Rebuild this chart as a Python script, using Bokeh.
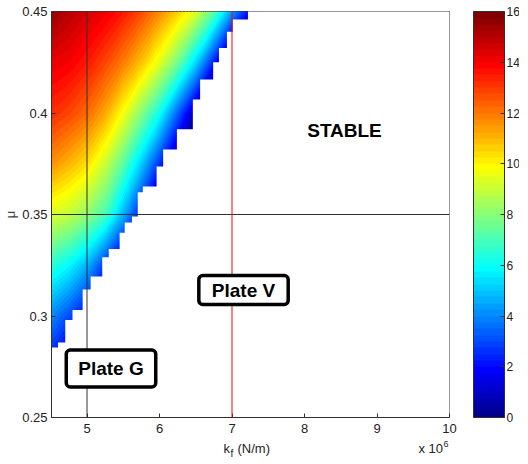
import numpy as np
from bokeh.plotting import figure
from bokeh.layouts import column
from bokeh.models import (Range1d, FixedTicker, ColorBar, LinearColorMapper,
                          Label, Span)
from bokeh.core.properties import value
from bokeh.embed import file_html
from bokeh.resources import INLINE

# ---------------- data ----------------
# kf in units of 1e6 N/m, friction coefficient mu
kf_cols = [4.5, 4.75, 5.0, 5.25, 5.5, 5.75, 6.0, 6.25, 6.5, 6.75, 7.0, 7.25, 7.5]
mu_rows = [0.275, 0.30, 0.325, 0.35, 0.375, 0.40, 0.425, 0.45]
growth_0275 = [2.0, 1.0, 0.0, -1, -2, -3, -4, -5, -6, -7, -8, -9, -10]
growth_0300 = [4.0, 3.0, 1.8, 0.0, -2, -3, -4, -5, -6, -7, -8, -9, -10]
growth_0325 = [6.5, 5.8, 4.6, 2.6, 0.5, -1.5, -3, -4, -5, -6, -7, -8, -9]
growth_0350 = [9.3, 8.9, 8.1, 6.9, 4.6, 2.0, -0.5, -2.5, -4, -5, -6, -7, -8]
growth_0375 = [11.6, 11.0, 10.3, 9.0, 7.2, 5.0, 2.5, 0.0, -2, -3.5, -5, -6, -7]
growth_0400 = [13.2, 12.8, 12.2, 11.2, 9.7, 7.9, 6.0, 3.3, 0.5, -2, -4, -5, -6]
growth_0425 = [14.2, 14.0, 13.5, 12.8, 11.9, 10.8, 9.4, 7.6, 5.2, 2.2, -1, -3, -5]
growth_0450 = [15.6, 15.0, 14.5, 14.1, 13.5, 12.7, 11.7, 10.6, 9.3, 7.2, 4.2, 1.8, -1]

# stability boundary (staircase): band bottom mu and kf edge of that band
edge_mu = [0.2845, 0.287, 0.298, 0.303, 0.313, 0.3195, 0.329, 0.333, 0.341,
           0.346, 0.349, 0.361, 0.3638, 0.3736, 0.382, 0.392, 0.4067, 0.4165,
           0.425, 0.432, 0.440, 0.446]
edge_kf = [4.60, 4.70, 4.80, 4.94, 5.05, 5.21, 5.30, 5.45, 5.52,
           5.62, 5.70, 5.77, 5.96, 6.05, 6.24, 6.46, 6.56, 6.74,
           6.82, 6.93, 7.01, 7.22]

kf_plate_G = 5.0
kf_plate_V = 7.0
mu_ref = 0.35

xticks = [5, 6, 7, 8, 9, 10]
yticks = [0.25, 0.3, 0.35, 0.4, 0.45]
ytick_labels = ["0.25", "0.3", "0.35", "0.4", "0.45"]
cbar_ticks = [0, 2, 4, 6, 8, 10, 12, 14, 16]

FRAME_W, FRAME_H = 398, 406
X_HI = 10.0
X_LO = X_HI - FRAME_W / 72.5   # ~4.51: puts the 5 and 7 lines on pixel centres
Y_LO, Y_HI = 0.25, 0.45


# ---------------- MATLAB jet(64) ----------------
def matlab_jet(m=64):
    n = int(np.ceil(m / 4))
    u = np.concatenate([np.arange(1, n + 1) / n, np.ones(n - 1),
                        np.arange(n, 0, -1) / n])
    g = int(np.ceil(n / 2)) - (1 if m % 4 == 1 else 0) + np.arange(1, len(u) + 1)
    r = g + n
    b = g - n
    J = np.zeros((m, 3))
    for col, idxs in ((0, r), (1, g), (2, b)):
        for i, val in zip(idxs, u):
            if 1 <= i <= m:
                J[i - 1, col] = val
    return ["#%02x%02x%02x" % tuple(int(round(c * 255)) for c in row) for row in J]


jet = matlab_jet(64)

FONT = "Liberation Sans"
TOP = 11
BOTTOM = 22

xr = Range1d(X_LO, X_HI)
p = figure(frame_width=FRAME_W, frame_height=FRAME_H,
           x_range=xr, y_range=Range1d(Y_LO, Y_HI),
           output_backend="svg", toolbar_location=None,
           min_border_left=44, min_border_right=70,
           min_border_top=TOP, min_border_bottom=BOTTOM)
p.background_fill_color = "white"
p.border_fill_color = "white"
p.xgrid.visible = False
p.ygrid.visible = False
p.outline_line_color = "#303030"
p.outline_line_width = 1

# heat field as filled contours (lines in matching colours hide seams)
z = np.array([growth_0275, growth_0300, growth_0325, growth_0350,
              growth_0375, growth_0400, growth_0425, growth_0450])
levels = np.linspace(0, 16, 65)
line_cols = [jet[min(i, 63)] for i in range(65)]
p.contour(kf_cols, mu_rows, z, levels, fill_color=jet,
          line_color=line_cols, line_width=1.3)

# white mask of the stable region (right of the staircase boundary)
mxs, mys = [X_HI + 0.2, X_HI + 0.2, edge_kf[-1]], [Y_LO - 0.01, Y_HI + 0.01, Y_HI + 0.01]
tops = edge_mu[1:] + [Y_HI + 0.01]
for i in range(len(edge_mu) - 1, -1, -1):
    mxs += [edge_kf[i], edge_kf[i]]
    mys += [tops[i], edge_mu[i]]
mxs += [X_LO - 0.2, X_LO - 0.2]
mys += [edge_mu[0], Y_LO - 0.01]
p.patch(mxs, mys, fill_color="white", line_color=None)

# axes
for ax in (p.xaxis[0], p.yaxis[0]):
    ax.major_tick_in = 4
    ax.major_tick_out = 0
    ax.minor_tick_line_color = None
    ax.axis_line_color = "#303030"
    ax.major_tick_line_color = "#303030"
    ax.major_label_text_font = FONT
    ax.major_label_text_font_size = "13px"
    ax.major_label_text_color = "#222222"
p.xaxis.ticker = FixedTicker(ticks=xticks)
p.yaxis.ticker = FixedTicker(ticks=yticks)
p.yaxis.major_label_overrides = {v: s for v, s in zip(yticks, ytick_labels)}
p.xaxis.major_label_standoff = 6
p.yaxis.major_label_standoff = 4
p.yaxis.axis_label = "μ"
p.yaxis.axis_label_text_font = FONT
p.yaxis.axis_label_text_font_style = "normal"
p.yaxis.axis_label_text_font_size = "13px"
p.yaxis.axis_label_standoff = 1

# reference lines
p.add_layout(Span(location=kf_plate_G, dimension="height", line_color="#303030", line_width=1))
p.add_layout(Span(location=mu_ref, dimension="width", line_color="#303030", line_width=1))
p.add_layout(Span(location=kf_plate_V, dimension="height", line_color="#ff0000", line_width=1))

px_per_kf = FRAME_W / (X_HI - X_LO)
px_per_mu = FRAME_H / (Y_HI - Y_LO)


def kx(page_x):
    return X_LO + (page_x - 52) / px_per_kf


def my_(page_y):
    return Y_HI - (page_y - 12) / px_per_mu


# annotations
p.add_layout(Label(x=kx(345), y=my_(131), text="STABLE", text_font=FONT,
                   text_font_size="19px", text_font_style="bold",
                   text_align="center", text_baseline="middle", text_color="black"))
p.add_layout(Label(x=kx(244), y=my_(290.5), text="Plate V", text_font=FONT,
                   text_font_size="19px", text_font_style="bold",
                   text_align="center", text_baseline="middle", text_color="black",
                   background_fill_color="white", border_line_color="black",
                   border_line_width=3.5, padding=(13, 4), border_radius=4))
p.add_layout(Label(x=kx(111.5), y=my_(369), text="Plate G", text_font=FONT,
                   text_font_size="19px", text_font_style="bold",
                   text_align="center", text_baseline="middle", text_color="black",
                   background_fill_color="white", border_line_color="black",
                   border_line_width=3.5, padding=(12, 8), border_radius=4))

# colour bar
mapper = LinearColorMapper(palette=jet, low=0, high=16)
cb = ColorBar(color_mapper=mapper, ticker=FixedTicker(ticks=cbar_ticks),
              width=31, height=FRAME_H, padding=0, margin=0,
              location=(422, 0),
              bar_line_color="#303030", bar_line_width=1,
              major_tick_in=4, major_tick_out=0,
              major_tick_line_color="#303030",
              minor_tick_line_color=None,
              major_label_text_font=FONT, major_label_text_font_size="12px",
              major_label_text_color="#222222",
              label_standoff=2,
              background_fill_alpha=0, border_line_color=None)
p.add_layout(cb)

# ---- strip below the axis for the x label and the x 10^6 multiplier ----
H2 = 22
p2 = figure(frame_width=FRAME_W, frame_height=H2, x_range=xr, y_range=Range1d(0, H2),
            output_backend="svg", toolbar_location=None,
            x_axis_location=None, y_axis_location=None,
            min_border_left=44, min_border_right=70,
            min_border_top=0, min_border_bottom=0)
p2.xgrid.visible = False
p2.ygrid.visible = False
p2.outline_line_color = None
p2.background_fill_color = "white"
p2.border_fill_color = "white"

STRIP_TOP = 1 + TOP + FRAME_H + BOTTOM  # page y of the strip's top edge


def sy(page_y):
    return H2 - (page_y - STRIP_TOP)


xlabel_parts = ["k", "(N/m)"]
xlabel_x = [kx(224), kx(238)]
p2.text(x=xlabel_x, y=[sy(449)] * 2, text=xlabel_parts, text_font=value(FONT),
        text_font_size="13px", text_color="#222222", text_baseline="alphabetic")
p2.text(x=[kx(231)], y=[sy(454)], text=["f"], text_font=value(FONT),
        text_font_size="10px", text_color="#222222", text_baseline="alphabetic")
p2.text(x=[kx(419)], y=[sy(449)], text=["x 10"], text_font=value(FONT),
        text_font_size="13px", text_color="#222222", text_baseline="alphabetic")
p2.text(x=[kx(444)], y=[sy(444)], text=["6"], text_font=value(FONT),
        text_font_size="9px", text_color="#222222", text_baseline="alphabetic")

layout = column(p, p2, spacing=0)
open("out.html", "w").write(file_html(layout, INLINE))
